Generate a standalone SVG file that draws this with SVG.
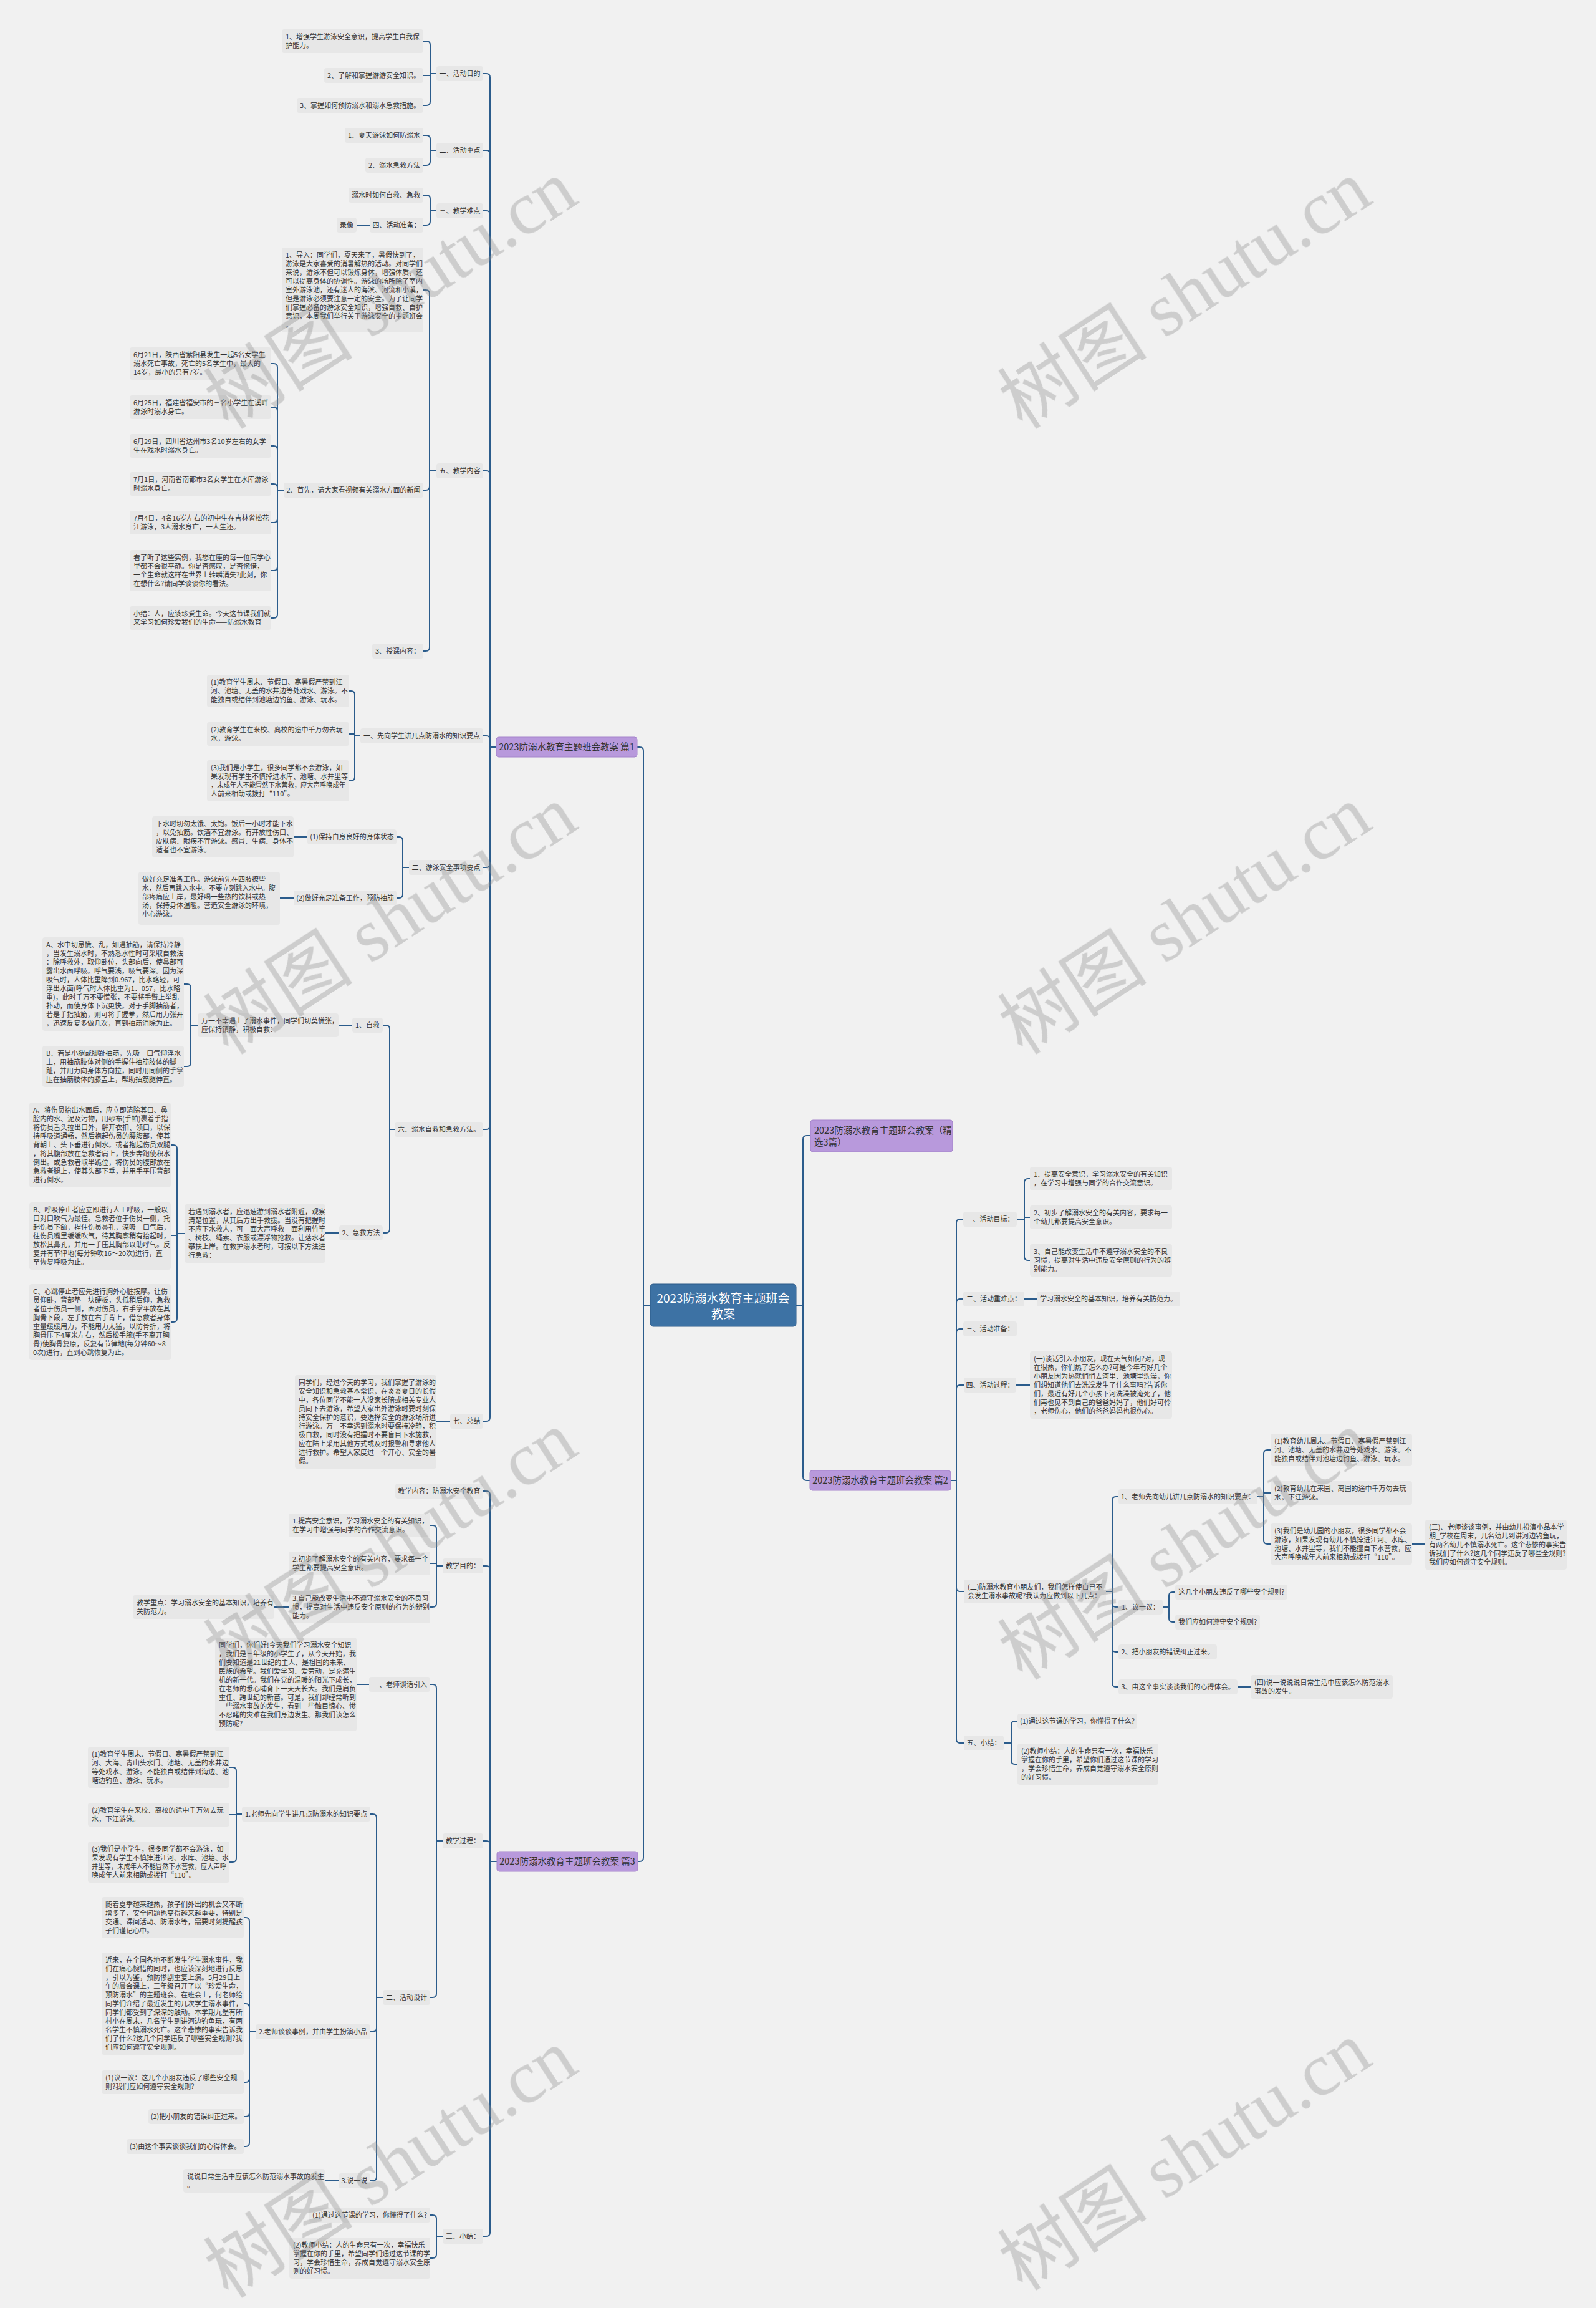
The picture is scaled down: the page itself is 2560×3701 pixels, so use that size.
<svg xmlns="http://www.w3.org/2000/svg" width="2560" height="3701" viewBox="0 0 2560 3701">
<style>
.nd{fill:#e7e7e7}
.t{font-family:"Noto Sans CJK SC","Liberation Sans",sans-serif;font-size:11px;fill:#333}
.m{text-anchor:middle}
.pp{fill:#b899dc;stroke:#a584cb;stroke-width:1}
.pt{font-family:"Noto Sans CJK SC","Liberation Sans",sans-serif;font-size:14.5px;fill:#333}
.c path{stroke:#2b5c8c;stroke-width:2;fill:none}
.wm{font-family:"Liberation Serif","Noto Sans CJK SC",serif;font-size:120px;fill:#8a8a8a;opacity:.35}
</style>
<rect width="2560" height="3701" fill="#f1f1f1"/>
<g class="c" id="connectors">
<path d="M1043,2093 H1032 M1032,2093 V1204 Q1032,1198 1026,1198 H1022 M1032,2093 V2979 Q1032,2985 1026,2985 H1023"/>
<path d="M1277,2093 H1288 M1288,2093 V1827 Q1288,1821 1294,1821 H1300 M1288,2093 V2368 Q1288,2374 1294,2374 H1299"/>
<path d="M796,1198 H786 M786,1198 V124 Q786,118 780,118 H775 M786,1198 V247 Q786,241 780,241 H775 M786,1198 V344 Q786,338 780,338 H775 M786,1198 V761 Q786,755 780,755 H775 M786,1198 V1186 Q786,1180 780,1180 H775 M786,1198 V1385 Q786,1391 780,1391 H775 M786,1198 V1805 Q786,1811 780,1811 H775 M786,1198 V2273 Q786,2279 780,2279 H775"/>
<path d="M700,118 H690 M690,118 V72 Q690,66 684,66 H679 M690,121 H679 M690,118 V163 Q690,169 684,169 H679"/>
<path d="M700,241 H690 M690,241 V223 Q690,217 684,217 H679 M690,241 V259 Q690,265 684,265 H679"/>
<path d="M700,338 H690 M690,338 V319 Q690,313 684,313 H679 M690,338 V355 Q690,361 684,361 H679 M593,361 H572"/>
<path d="M700,755 H689 M689,755 V471 Q689,465 683,465 H679 M689,755 V780 Q689,786 683,786 H679 M689,755 V1038 Q689,1044 683,1044 H679"/>
<path d="M457,786 H445 M445,786 V589 Q445,583 439,583 H435 M445,786 V659 Q445,653 439,653 H435 M445,786 V721 Q445,715 439,715 H435 M445,786 V782 Q445,776 439,776 H435 M445,786 V832 Q445,838 439,838 H435 M445,786 V909 Q445,915 439,915 H435 M445,786 V985 Q445,991 439,991 H435"/>
<path d="M581,1180 H569 M569,1180 V1114 Q569,1108 563,1108 H560 M569,1177 H560 M569,1180 V1246 Q569,1252 563,1252 H560"/>
<path d="M657,1391 H646 M646,1391 V1348 Q646,1342 640,1342 H636 M646,1391 V1434 Q646,1440 640,1440 H636 M493,1342 H471 M471,1440 H449"/>
<path d="M634,1811 H625 M625,1811 V1650 Q625,1644 619,1644 H614 M625,1811 V1971 Q625,1977 619,1977 H614 M565,1644 H543 M544,1977 H522"/>
<path d="M317,1644 H306 M306,1644 V1584 Q306,1578 300,1578 H295 M306,1644 V1704 Q306,1710 300,1710 H295"/>
<path d="M296,1978 H284 M284,1978 V1842 Q284,1836 278,1836 H274 M284,1981 H274 M284,1978 V2114 Q284,2120 278,2120 H274"/>
<path d="M722,2279 H700"/>
<path d="M797,2985 H786 M786,2985 V2397 Q786,2391 780,2391 H775 M786,2985 V2517 Q786,2511 780,2511 H775 M786,2985 V2958 Q786,2952 780,2952 H775 M786,2985 V3580 Q786,3586 780,3586 H775"/>
<path d="M710,2511 H700 M700,2511 V2452 Q700,2446 694,2446 H690 M700,2507 H690 M700,2511 V2571 Q700,2577 694,2577 H690 M463,2577 H440"/>
<path d="M710,2952 H700 M700,2952 V2707 Q700,2701 694,2701 H690 M700,2952 V3197 Q700,3203 694,3203 H690 M592,2701 H572"/>
<path d="M614,3203 H604 M604,3203 V2915 Q604,2909 598,2909 H594 M604,3203 V3252 Q604,3258 598,3258 H594 M604,3203 V3491 Q604,3497 598,3497 H594 M543,3497 H521"/>
<path d="M388,2909 H379 M379,2909 V2840 Q379,2834 373,2834 H368 M379,2910 H368 M379,2909 V2980 Q379,2986 373,2986 H368"/>
<path d="M410,3258 H400 M400,3258 V3081 Q400,3075 394,3075 H391 M400,3258 V3219 Q400,3213 394,3213 H391 M400,3258 V3333 Q400,3339 394,3339 H391 M400,3258 V3388 Q400,3394 394,3394 H391 M400,3258 V3436 Q400,3442 394,3442 H391"/>
<path d="M710,3586 H700 M700,3586 V3558 Q700,3552 694,3552 H690 M700,3586 V3615 Q700,3621 694,3621 H690"/>
<path d="M1525,2374 H1534 M1534,2374 V1961 Q1534,1955 1540,1955 H1545 M1534,2374 V2089 Q1534,2083 1540,2083 H1545 M1534,2374 V2137 Q1534,2131 1540,2131 H1545 M1534,2374 V2227 Q1534,2221 1540,2221 H1546 M1534,2374 V2546 Q1534,2552 1540,2552 H1546 M1534,2374 V2789 Q1534,2795 1540,2795 H1546"/>
<path d="M1631,1955 H1643 M1643,1955 V1896 Q1643,1890 1649,1890 H1652 M1643,1952 H1652 M1643,1955 V2015 Q1643,2021 1649,2021 H1652 M1643,2083 H1663 M1630,2221 H1652"/>
<path d="M1774,2552 H1784 M1784,2552 V2406 Q1784,2400 1790,2400 H1794 M1784,2552 V2571 Q1784,2577 1790,2577 H1794 M1784,2552 V2643 Q1784,2649 1790,2649 H1794 M1784,2552 V2699 Q1784,2705 1790,2705 H1794 M1985,2705 H2006"/>
<path d="M2017,2400 H2027 M2027,2400 V2331 Q2027,2325 2033,2325 H2038 M2027,2394 H2038 M2027,2400 V2470 Q2027,2476 2033,2476 H2038 M2265,2476 H2286"/>
<path d="M1865,2577 H1875 M1875,2577 V2559 Q1875,2553 1881,2553 H1885 M1875,2577 V2595 Q1875,2601 1881,2601 H1885"/>
<path d="M1610,2795 H1622 M1622,2795 V2766 Q1622,2760 1628,2760 H1632 M1622,2795 V2823 Q1622,2829 1628,2829 H1632"/>
</g>
<g id="root"><rect x="1043" y="2059" width="234" height="68" rx="5" fill="#3d72a4" stroke="#2d5a88"/><text font-family="Noto Sans CJK SC,Liberation Sans,sans-serif" font-size="19" fill="#fff" text-anchor="middle"><tspan x="1160" y="2089">2023防溺水教育主题班会</tspan><tspan x="1160" y="2114">教案</tspan></text></g>
<g id="jingxuan"><rect class="pp" x="1300" y="1796" width="228" height="51" rx="4"/><text class="pt"><tspan x="1306" y="1818">2023防溺水教育主题班会教案（精</tspan><tspan x="1306" y="1837">选3篇）</tspan></text></g>
<g id="pian1"><rect class="pp" x="796" y="1182" width="226" height="32" rx="4"/><text class="pt m" x="909" y="1203">2023防溺水教育主题班会教案 篇1</text></g>
<g id="pian2"><rect class="pp" x="1299" y="2358" width="226" height="32" rx="4"/><text class="pt m" x="1412" y="2379">2023防溺水教育主题班会教案 篇2</text></g>
<g id="pian3"><rect class="pp" x="797" y="2969" width="226" height="32" rx="4"/><text class="pt m" x="910" y="2990">2023防溺水教育主题班会教案 篇3</text></g>

<g id="a1"><rect class="nd" x="700" y="106" width="75" height="24" rx="4"/><text class="t m" x="737.5" y="122">一、活动目的</text></g>
<g id="a1-1"><rect class="nd" x="452" y="47" width="227" height="38" rx="4"/><text class="t"><tspan x="458" y="63">1、增强学生游泳安全意识，提高学生自我保</tspan><tspan x="458" y="77">护能力。</tspan></text></g>
<g id="a1-2"><rect class="nd" x="520" y="109" width="159" height="24" rx="4"/><text class="t m" x="599.5" y="125">2、了解和掌握游游安全知识。</text></g>
<g id="a1-3"><rect class="nd" x="476" y="157" width="203" height="24" rx="4"/><text class="t m" x="577.5" y="173">3、掌握如何预防溺水和溺水急救措施。</text></g>
<g id="a2"><rect class="nd" x="700" y="229" width="75" height="24" rx="4"/><text class="t m" x="737.5" y="245">二、活动重点</text></g>
<g id="a2-1"><rect class="nd" x="553" y="205" width="126" height="24" rx="4"/><text class="t m" x="616" y="221">1、夏天游泳如何防溺水</text></g>
<g id="a2-2"><rect class="nd" x="586" y="253" width="93" height="24" rx="4"/><text class="t m" x="632.5" y="269">2、溺水急救方法</text></g>
<g id="a3"><rect class="nd" x="700" y="326" width="75" height="24" rx="4"/><text class="t m" x="737.5" y="342">三、教学难点</text></g>
<g id="a3-1"><rect class="nd" x="559" y="301" width="120" height="24" rx="4"/><text class="t m" x="619" y="317">溺水时如何自救、急救</text></g>
<g id="a3-2"><rect class="nd" x="593" y="349" width="86" height="24" rx="4"/><text class="t m" x="636" y="365">四、活动准备：</text></g>
<g id="a3-2-1"><rect class="nd" x="540" y="349" width="32" height="24" rx="4"/><text class="t m" x="556" y="365">录像</text></g>
<g id="a5"><rect class="nd" x="700" y="743" width="75" height="24" rx="4"/><text class="t m" x="737.5" y="759">五、教学内容</text></g>
<g id="a5-1"><rect class="nd" x="452" y="397" width="227" height="136" rx="4"/><text class="t"><tspan x="458" y="413">1、导入：同学们，夏天来了，暑假快到了，</tspan><tspan x="458" y="427">游泳是大家喜爱的消暑解热的活动。对同学们</tspan><tspan x="458" y="441">来说，游泳不但可以锻炼身体，增强体质，还</tspan><tspan x="458" y="455">可以提高身体的协调性。游泳的场所除了室内</tspan><tspan x="458" y="469">室外游泳池，还有迷人的海滨、河流和小溪，</tspan><tspan x="458" y="483">但是游泳必须要注意一定的安全。为了让同学</tspan><tspan x="458" y="497">们掌握必备的游泳安全知识，增强自救、自护</tspan><tspan x="458" y="511">意识，本周我们举行关于游泳安全的主题班会</tspan><tspan x="458" y="525">。</tspan></text></g>
<g id="a5-2"><rect class="nd" x="455" y="774" width="224" height="24" rx="4"/><text class="t m" x="567" y="790">2、首先，请大家看视频有关溺水方面的新闻</text></g>
<g id="a5-3"><rect class="nd" x="597" y="1032" width="82" height="24" rx="4"/><text class="t m" x="638" y="1048">3、授课内容：</text></g>
<g id="n1"><rect class="nd" x="208" y="557" width="227" height="52" rx="4"/><text class="t"><tspan x="214" y="573">6月21日，陕西省紫阳县发生一起5名女学生</tspan><tspan x="214" y="587">溺水死亡事故，死亡的5名学生中，最大的</tspan><tspan x="214" y="601">14岁，最小的只有7岁。</tspan></text></g>
<g id="n2"><rect class="nd" x="208" y="634" width="227" height="38" rx="4"/><text class="t"><tspan x="214" y="650">6月25日，福建省福安市的三名小学生在溪畔</tspan><tspan x="214" y="664">游泳时溺水身亡。</tspan></text></g>
<g id="n3"><rect class="nd" x="208" y="696" width="227" height="38" rx="4"/><text class="t"><tspan x="214" y="712">6月29日，四川省达州市3名10岁左右的女学</tspan><tspan x="214" y="726">生在戏水时溺水身亡。</tspan></text></g>
<g id="n4"><rect class="nd" x="208" y="757" width="227" height="38" rx="4"/><text class="t"><tspan x="214" y="773">7月1日，河南省南都市3名女学生在水库游泳</tspan><tspan x="214" y="787">时溺水身亡。</tspan></text></g>
<g id="n5"><rect class="nd" x="208" y="819" width="227" height="38" rx="4"/><text class="t"><tspan x="214" y="835">7月4日，4名16岁左右的初中生在吉林省松花</tspan><tspan x="214" y="849">江游泳，3人溺水身亡，一人生还。</tspan></text></g>
<g id="n6"><rect class="nd" x="208" y="882" width="227" height="66" rx="4"/><text class="t"><tspan x="214" y="898">看了听了这些实例，我想在座的每一位同学心</tspan><tspan x="214" y="912">里都不会很平静。你是否感叹，是否惋惜，</tspan><tspan x="214" y="926">一个生命就这样在世界上转瞬消失?此刻，你</tspan><tspan x="214" y="940">在想什么?请同学谈谈你的看法。</tspan></text></g>
<g id="n7"><rect class="nd" x="208" y="972" width="227" height="38" rx="4"/><text class="t"><tspan x="214" y="988">小结：人，应该珍爱生命。今天这节课我们就</tspan><tspan x="214" y="1002">来学习如何珍爱我们的生命——防溺水教育</tspan></text></g>
<g id="a6"><rect class="nd" x="578" y="1168" width="197" height="24" rx="4"/><text class="t m" x="676.5" y="1184">一、先向学生讲几点防溺水的知识要点</text></g>
<g id="a6-1"><rect class="nd" x="332" y="1082" width="228" height="52" rx="4"/><text class="t"><tspan x="338" y="1098">(1)教育学生周末、节假日、寒暑假严禁到江</tspan><tspan x="338" y="1112">河、池塘、无盖的水井边等处戏水、游泳。不</tspan><tspan x="338" y="1126">能独自或结伴到池塘边钓鱼、游泳、玩水。</tspan></text></g>
<g id="a6-2"><rect class="nd" x="332" y="1158" width="228" height="38" rx="4"/><text class="t"><tspan x="338" y="1174">(2)教育学生在来校、离校的途中千万勿去玩</tspan><tspan x="338" y="1188">水，游泳。</tspan></text></g>
<g id="a6-3"><rect class="nd" x="332" y="1219" width="228" height="66" rx="4"/><text class="t"><tspan x="338" y="1235">(3)我们是小学生，很多同学都不会游泳，如</tspan><tspan x="338" y="1249">果发现有学生不慎掉进水库、池塘、水井里等</tspan><tspan x="338" y="1263" textLength="216" lengthAdjust="spacingAndGlyphs">，未成年人不能冒然下水营救，应大声呼唤成年</tspan><tspan x="338" y="1277">人前来相助或拨打“110”。</tspan></text></g>
<g id="a7"><rect class="nd" x="656" y="1379" width="119" height="24" rx="4"/><text class="t m" x="715.5" y="1395">二、游泳安全事项要点</text></g>
<g id="a7-1"><rect class="nd" x="493" y="1330" width="143" height="24" rx="4"/><text class="t m" x="564.5" y="1346">(1)保持自身良好的身体状态</text></g>
<g id="a7-1-1"><rect class="nd" x="244" y="1309" width="227" height="66" rx="4"/><text class="t"><tspan x="250" y="1325">下水时切勿太饿、太饱。饭后一小时才能下水</tspan><tspan x="250" y="1339">，以免抽筋。饮酒不宜游泳。有开放性伤口、</tspan><tspan x="250" y="1353">皮肤病、眼疾不宜游泳。感冒、生病、身体不</tspan><tspan x="250" y="1367">适者也不宜游泳。</tspan></text></g>
<g id="a7-2"><rect class="nd" x="471" y="1428" width="165" height="24" rx="4"/><text class="t m" x="553.5" y="1444">(2)做好充足准备工作，预防抽筋</text></g>
<g id="a7-2-1"><rect class="nd" x="222" y="1398" width="227" height="85" rx="4"/><text class="t"><tspan x="228" y="1414">做好充足准备工作。游泳前先在四肢撩些</tspan><tspan x="228" y="1428" textLength="214" lengthAdjust="spacingAndGlyphs">水，然后再跳入水中。不要立刻跳入水中。腹</tspan><tspan x="228" y="1442">部疼痛应上岸，最好喝一些热的饮料或热</tspan><tspan x="228" y="1456">汤，保持身体温暖。营造安全游泳的环境，</tspan><tspan x="228" y="1470">小心游泳。</tspan></text></g>
<g id="a8"><rect class="nd" x="633" y="1799" width="142" height="24" rx="4"/><text class="t m" x="704" y="1815">六、溺水自救和急救方法。</text></g>
<g id="a8-1"><rect class="nd" x="565" y="1632" width="49" height="24" rx="4"/><text class="t m" x="589.5" y="1648">1、自救</text></g>
<g id="a8-1-1"><rect class="nd" x="317" y="1625" width="226" height="38" rx="4"/><text class="t"><tspan x="323" y="1641">万一不幸遇上了溺水事件，同学们切莫慌张，</tspan><tspan x="323" y="1655">应保持镇静，积极自救：</tspan></text></g>
<g id="a8-1-1-1"><rect class="nd" x="68" y="1503" width="227" height="150" rx="4"/><text class="t"><tspan x="74" y="1519">A、水中切忌慌、乱，如遇抽筋，请保持冷静</tspan><tspan x="74" y="1533">，当发生溺水时，不熟悉水性时可采取自救法</tspan><tspan x="74" y="1547">：除呼救外，取仰卧位，头部向后，使鼻部可</tspan><tspan x="74" y="1561">露出水面呼吸。呼气要浅，吸气要深。因为深</tspan><tspan x="74" y="1575">吸气时，人体比重降到0.967，比水略轻，可</tspan><tspan x="74" y="1589">浮出水面(呼气时人体比重为1．057，比水略</tspan><tspan x="74" y="1603">重)，此时千万不要慌张，不要将手臂上举乱</tspan><tspan x="74" y="1617">扑动，而使身体下沉更快。对于手脚抽筋者，</tspan><tspan x="74" y="1631">若是手指抽筋，则可将手握拳，然后用力张开</tspan><tspan x="74" y="1645">，迅速反复多做几次，直到抽筋消除为止。</tspan></text></g>
<g id="a8-1-1-2"><rect class="nd" x="68" y="1677" width="227" height="66" rx="4"/><text class="t"><tspan x="74" y="1693">B、若是小腿或脚趾抽筋，先吸一口气仰浮水</tspan><tspan x="74" y="1707">上，用抽筋肢体对侧的手握住抽筋肢体的脚</tspan><tspan x="74" y="1721">趾，并用力向身体方向拉，同时用同侧的手掌</tspan><tspan x="74" y="1735">压在抽筋肢体的膝盖上，帮助抽筋腿伸直。</tspan></text></g>
<g id="a8-2"><rect class="nd" x="544" y="1965" width="70" height="24" rx="4"/><text class="t m" x="579" y="1981">2、急救方法</text></g>
<g id="a8-2-1"><rect class="nd" x="296" y="1931" width="226" height="94" rx="4"/><text class="t"><tspan x="302" y="1947">若遇到溺水者，应迅速游到溺水者附近，观察</tspan><tspan x="302" y="1961">清楚位置，从其后方出手救援。当没有把握时</tspan><tspan x="302" y="1975">不应下水救人，可一面大声呼救一面利用竹竿</tspan><tspan x="302" y="1989">、树枝、绳索、衣服或漂浮物抢救。让落水者</tspan><tspan x="302" y="2003">攀扶上岸。在救护溺水者时，可按以下方法进</tspan><tspan x="302" y="2017">行急救：</tspan></text></g>
<g id="a8-2-1-1"><rect class="nd" x="47" y="1768" width="227" height="136" rx="4"/><text class="t"><tspan x="53" y="1784">A、将伤员抬出水面后，应立即清除其口、鼻</tspan><tspan x="53" y="1798">腔内的水、泥及污物，用纱布(手帕)裹着手指</tspan><tspan x="53" y="1812">将伤员舌头拉出口外，解开衣扣、领口，以保</tspan><tspan x="53" y="1826">持呼吸道通畅，然后抱起伤员的腰腹部，使其</tspan><tspan x="53" y="1840">背朝上、头下垂进行倒水。或者抱起伤员双腿</tspan><tspan x="53" y="1854">，将其腹部放在急救者肩上，快步奔跑使积水</tspan><tspan x="53" y="1868">倒出。或急救者取半跪位，将伤员的腹部放在</tspan><tspan x="53" y="1882">急救者腿上，使其头部下垂，并用手平压背部</tspan><tspan x="53" y="1896">进行倒水。</tspan></text></g>
<g id="a8-2-1-2"><rect class="nd" x="47" y="1928" width="227" height="108" rx="4"/><text class="t"><tspan x="53" y="1944">B、呼吸停止者应立即进行人工呼吸，一般以</tspan><tspan x="53" y="1958">口对口吹气为最佳。急救者位于伤员一侧，托</tspan><tspan x="53" y="1972">起伤员下颌，捏住伤员鼻孔，深吸一口气后，</tspan><tspan x="53" y="1986">往伤员嘴里缓缓吹气，待其胸廓稍有抬起时，</tspan><tspan x="53" y="2000">放松其鼻孔，并用一手压其胸部以助呼气。反</tspan><tspan x="53" y="2014">复并有节律地(每分钟吹16～20次)进行，直</tspan><tspan x="53" y="2028">至恢复呼吸为止。</tspan></text></g>
<g id="a8-2-1-3"><rect class="nd" x="47" y="2059" width="227" height="122" rx="4"/><text class="t"><tspan x="53" y="2075">C、心跳停止者应先进行胸外心脏按摩。让伤</tspan><tspan x="53" y="2089">员仰卧，背部垫一块硬板，头低稍后仰，急救</tspan><tspan x="53" y="2103">者位于伤员一侧，面对伤员，右手掌平放在其</tspan><tspan x="53" y="2117">胸骨下段，左手放在右手背上，借急救者身体</tspan><tspan x="53" y="2131">重量缓缓用力，不能用力太猛，以防骨折，将</tspan><tspan x="53" y="2145">胸骨压下4厘米左右，然后松手腕(手不离开胸</tspan><tspan x="53" y="2159">骨)使胸骨复原，反复有节律地(每分钟60～8</tspan><tspan x="53" y="2173">0次)进行，直到心跳恢复为止。</tspan></text></g>
<g id="a9"><rect class="nd" x="722" y="2267" width="53" height="24" rx="4"/><text class="t m" x="748.5" y="2283">七、总结</text></g>
<g id="a9-1"><rect class="nd" x="473" y="2205" width="227" height="150" rx="4"/><text class="t"><tspan x="479" y="2221">同学们，经过今天的学习，我们掌握了游泳的</tspan><tspan x="479" y="2235">安全知识和急救基本常识，在炎炎夏日的长假</tspan><tspan x="479" y="2249">中，各位同学不能一人没家长陪或相关专业人</tspan><tspan x="479" y="2263">员同下去游泳，希望大家出外游泳时要时刻保</tspan><tspan x="479" y="2277">持安全保护的意识，要选择安全的游泳场所进</tspan><tspan x="479" y="2291">行游泳。万一不幸遇到溺水时要保持冷静，积</tspan><tspan x="479" y="2305">极自救，同时没有把握时不要盲目下水施救，</tspan><tspan x="479" y="2319">应在陆上采用其他方式或及时报警和寻求他人</tspan><tspan x="479" y="2333">进行救护。希望大家度过一个开心、安全的暑</tspan><tspan x="479" y="2347">假。</tspan></text></g>

<g id="b1"><rect class="nd" x="634" y="2379" width="141" height="24" rx="4"/><text class="t m" x="704.5" y="2395">教学内容：防溺水安全教育</text></g>
<g id="b2"><rect class="nd" x="710" y="2499" width="65" height="24" rx="4"/><text class="t m" x="742.5" y="2515">教学目的：</text></g>
<g id="b2-1"><rect class="nd" x="463" y="2427" width="227" height="38" rx="4"/><text class="t"><tspan x="469" y="2443">1.提高安全意识，学习溺水安全的有关知识，</tspan><tspan x="469" y="2457">在学习中增强与同学的合作交流意识。</tspan></text></g>
<g id="b2-2"><rect class="nd" x="463" y="2488" width="227" height="38" rx="4"/><text class="t"><tspan x="469" y="2504">2.初步了解溺水安全的有关内容，要求每一个</tspan><tspan x="469" y="2518">学生都要提高安全意识。</tspan></text></g>
<g id="b2-3"><rect class="nd" x="463" y="2551" width="227" height="52" rx="4"/><text class="t"><tspan x="469" y="2567">3.自己能改变生活中不遵守溺水安全的不良习</tspan><tspan x="469" y="2581">惯，提高对生活中违反安全原则的行为的辨别</tspan><tspan x="469" y="2595">能力。</tspan></text></g>
<g id="b2-3-1"><rect class="nd" x="213" y="2558" width="227" height="38" rx="4"/><text class="t"><tspan x="219" y="2574">教学重点：学习溺水安全的基本知识，培养有</tspan><tspan x="219" y="2588">关防范力。</tspan></text></g>
<g id="b3"><rect class="nd" x="710" y="2940" width="65" height="24" rx="4"/><text class="t m" x="742.5" y="2956">教学过程：</text></g>
<g id="b3-1"><rect class="nd" x="592" y="2689" width="98" height="24" rx="4"/><text class="t m" x="641" y="2705">一、老师谈话引入</text></g>
<g id="b3-1-1"><rect class="nd" x="345" y="2626" width="227" height="150" rx="4"/><text class="t"><tspan x="351" y="2642">同学们，你们好!今天我们学习溺水安全知识</tspan><tspan x="351" y="2656">，我们是三年级的小学生了，从今天开始，我</tspan><tspan x="351" y="2670">们要知道是21世纪的主人、是祖国的未来、</tspan><tspan x="351" y="2684">民族的希望。我们爱学习、爱劳动，是充满生</tspan><tspan x="351" y="2698">机的新一代。我们在党的温暖的阳光下成长，</tspan><tspan x="351" y="2712">在老师的悉心哺育下一天天长大。我们是肩负</tspan><tspan x="351" y="2726">重任、跨世纪的新苗。可是，我们却经常听到</tspan><tspan x="351" y="2740">一些溺水事故的发生，看到一些触目惊心、惨</tspan><tspan x="351" y="2754">不忍睹的灾难在我们身边发生。那我们该怎么</tspan><tspan x="351" y="2768">预防呢?</tspan></text></g>
<g id="b3-2"><rect class="nd" x="614" y="3191" width="76" height="24" rx="4"/><text class="t m" x="652" y="3207">二、活动设计</text></g>
<g id="b3-2-1"><rect class="nd" x="388" y="2897" width="206" height="24" rx="4"/><text class="t m" x="491" y="2913">1.老师先向学生讲几点防溺水的知识要点</text></g>
<g id="b3-2-1-1"><rect class="nd" x="141" y="2801" width="227" height="66" rx="4"/><text class="t"><tspan x="147" y="2817">(1)教育学生周末、节假日、寒暑假严禁到江</tspan><tspan x="147" y="2831">河、大海、青山头水门、池塘、无盖的水井边</tspan><tspan x="147" y="2845">等处戏水、游泳。不能独自或结伴到海边、池</tspan><tspan x="147" y="2859">塘边钓鱼、游泳、玩水。</tspan></text></g>
<g id="b3-2-1-2"><rect class="nd" x="141" y="2891" width="227" height="38" rx="4"/><text class="t"><tspan x="147" y="2907">(2)教育学生在来校、离校的途中千万勿去玩</tspan><tspan x="147" y="2921">水，下江游泳。</tspan></text></g>
<g id="b3-2-1-3"><rect class="nd" x="141" y="2953" width="227" height="66" rx="4"/><text class="t"><tspan x="147" y="2969">(3)我们是小学生，很多同学都不会游泳，如</tspan><tspan x="147" y="2983">果发现有学生不慎掉进江河、水库、池塘、水</tspan><tspan x="147" y="2997" textLength="216" lengthAdjust="spacingAndGlyphs">井里等，未成年人不能冒然下水营救，应大声呼</tspan><tspan x="147" y="3011">唤成年人前来相助或拨打“110”。</tspan></text></g>
<g id="b3-2-2"><rect class="nd" x="410" y="3246" width="184" height="24" rx="4"/><text class="t m" x="502" y="3262">2.老师谈谈事例，并由学生扮演小品</text></g>
<g id="b3-2-2-1"><rect class="nd" x="163" y="3042" width="228" height="66" rx="4"/><text class="t"><tspan x="169" y="3058">随着夏季越来越热，孩子们外出的机会又不断</tspan><tspan x="169" y="3072">增多了，安全问题也变得越来越重要，特别是</tspan><tspan x="169" y="3086">交通、课间活动、防溺水等，需要时刻提醒孩</tspan><tspan x="169" y="3100">子们谨记心中。</tspan></text></g>
<g id="b3-2-2-2"><rect class="nd" x="163" y="3131" width="228" height="164" rx="4"/><text class="t"><tspan x="169" y="3147">近来，在全国各地不断发生学生溺水事件，我</tspan><tspan x="169" y="3161">们在痛心惋惜的同时，也应该深刻地进行反思</tspan><tspan x="169" y="3175">，引以为鉴，预防惨剧重复上演。5月29日上</tspan><tspan x="169" y="3189">午的晨会课上，三年级召开了以“珍爱生命，</tspan><tspan x="169" y="3203">预防溺水”的主题班会。在班会上，何老师给</tspan><tspan x="169" y="3217">同学们介绍了最近发生的几次学生溺水事件，</tspan><tspan x="169" y="3231">同学们都受到了深深的触动。本学期九堡有所</tspan><tspan x="169" y="3245">村小在周末，几名学生到讲河边钓鱼玩，有两</tspan><tspan x="169" y="3259">名学生不慎溺水死亡。这个悲惨的事实告诉我</tspan><tspan x="169" y="3273">们了什么?这几个同学违反了哪些安全规则?我</tspan><tspan x="169" y="3287">们应如何遵守安全规则。</tspan></text></g>
<g id="b3-2-2-3"><rect class="nd" x="163" y="3320" width="228" height="38" rx="4"/><text class="t"><tspan x="169" y="3336">(1)议一议：这几个小朋友违反了哪些安全规</tspan><tspan x="169" y="3350">则?我们应如何遵守安全规则?</tspan></text></g>
<g id="b3-2-2-4"><rect class="nd" x="238" y="3382" width="153" height="24" rx="4"/><text class="t m" x="314.5" y="3398">(2)把小朋友的错误纠正过来。</text></g>
<g id="b3-2-2-5"><rect class="nd" x="203" y="3430" width="188" height="24" rx="4"/><text class="t m" x="297" y="3446">(3)由这个事实谈谈我们的心得体会。</text></g>
<g id="b3-2-3"><rect class="nd" x="543" y="3485" width="51" height="24" rx="4"/><text class="t m" x="568.5" y="3501">3.说一说</text></g>
<g id="b3-2-3-1"><rect class="nd" x="294" y="3478" width="227" height="38" rx="4"/><text class="t"><tspan x="300" y="3494">说说日常生活中应该怎么防范溺水事故的发生</tspan><tspan x="300" y="3508">。</tspan></text></g>
<g id="b4"><rect class="nd" x="710" y="3574" width="65" height="24" rx="4"/><text class="t m" x="742.5" y="3590">三、小结：</text></g>
<g id="b4-1"><rect class="nd" x="496" y="3540" width="194" height="24" rx="4"/><text class="t m" x="593" y="3556">(1)通过这节课的学习，你懂得了什么?</text></g>
<g id="b4-2"><rect class="nd" x="464" y="3588" width="226" height="66" rx="4"/><text class="t"><tspan x="470" y="3604">(2)教师小结：人的生命只有一次，幸福快乐</tspan><tspan x="470" y="3618">掌握在你的手里，希望同学们通过这节课的学</tspan><tspan x="470" y="3632">习，学会珍惜生命，养成自觉遵守溺水安全原</tspan><tspan x="470" y="3646">则的好习惯。</tspan></text></g>

<g id="c1"><rect class="nd" x="1545" y="1943" width="86" height="24" rx="4"/><text class="t m" x="1588" y="1959">一、活动目标：</text></g>
<g id="c1-1"><rect class="nd" x="1652" y="1871" width="228" height="38" rx="4"/><text class="t"><tspan x="1658" y="1887">1、提高安全意识，学习溺水安全的有关知识</tspan><tspan x="1658" y="1901">，在学习中增强与同学的合作交流意识。</tspan></text></g>
<g id="c1-2"><rect class="nd" x="1652" y="1933" width="228" height="38" rx="4"/><text class="t"><tspan x="1658" y="1949">2、初步了解溺水安全的有关内容，要求每一</tspan><tspan x="1658" y="1963">个幼儿都要提高安全意识。</tspan></text></g>
<g id="c1-3"><rect class="nd" x="1652" y="1995" width="228" height="52" rx="4"/><text class="t"><tspan x="1658" y="2011">3、自己能改变生活中不遵守溺水安全的不良</tspan><tspan x="1658" y="2025">习惯，提高对生活中违反安全原则的行为的辨</tspan><tspan x="1658" y="2039">别能力。</tspan></text></g>
<g id="c2"><rect class="nd" x="1545" y="2071" width="98" height="24" rx="4"/><text class="t m" x="1594" y="2087">二、活动重难点：</text></g>
<g id="c2-1"><rect class="nd" x="1663" y="2071" width="230" height="24" rx="4"/><text class="t m" x="1778" y="2087">学习溺水安全的基本知识，培养有关防范力。</text></g>
<g id="c3"><rect class="nd" x="1545" y="2119" width="86" height="24" rx="4"/><text class="t m" x="1588" y="2135">三、活动准备：</text></g>
<g id="c4"><rect class="nd" x="1546" y="2209" width="84" height="24" rx="4"/><text class="t m" x="1588" y="2225">四、活动过程：</text></g>
<g id="c4-1"><rect class="nd" x="1652" y="2167" width="228" height="108" rx="4"/><text class="t"><tspan x="1658" y="2183">(一)谈话引入小朋友，现在天气如何?对，现</tspan><tspan x="1658" y="2197">在很热，你们热了怎么办?可是今年有好几个</tspan><tspan x="1658" y="2211">小朋友因为热就悄悄去河里、池塘里洗澡，你</tspan><tspan x="1658" y="2225">们想知道他们去洗澡发生了什么事吗?告诉你</tspan><tspan x="1658" y="2239">们，最近有好几个小孩下河洗澡被淹死了，他</tspan><tspan x="1658" y="2253">们再也见不到自己的爸爸妈妈了，他们好可怜</tspan><tspan x="1658" y="2267">，老师伤心，他们的爸爸妈妈也很伤心。</tspan></text></g>
<g id="c5"><rect class="nd" x="1546" y="2533" width="228" height="38" rx="4"/><text class="t"><tspan x="1552" y="2549">(二)防溺水教育小朋友们，我们怎样使自己不</tspan><tspan x="1552" y="2563">会发生溺水事故呢?我认为应做到以下几点：</tspan></text></g>
<g id="c5-1"><rect class="nd" x="1794" y="2388" width="223" height="24" rx="4"/><text class="t m" x="1905.5" y="2404">1、老师先向幼儿讲几点防溺水的知识要点：</text></g>
<g id="c5-1-1"><rect class="nd" x="2038" y="2299" width="227" height="52" rx="4"/><text class="t"><tspan x="2044" y="2315">(1)教育幼儿周末、节假日、寒暑假严禁到江</tspan><tspan x="2044" y="2329">河、池塘、无盖的水井边等处戏水、游泳。不</tspan><tspan x="2044" y="2343">能独自或结伴到池塘边钓鱼、游泳、玩水。</tspan></text></g>
<g id="c5-1-2"><rect class="nd" x="2038" y="2375" width="227" height="38" rx="4"/><text class="t"><tspan x="2044" y="2391">(2)教育幼儿在来园、离园的途中千万勿去玩</tspan><tspan x="2044" y="2405">水，下江游泳。</tspan></text></g>
<g id="c5-1-3"><rect class="nd" x="2038" y="2443" width="227" height="66" rx="4"/><text class="t"><tspan x="2044" y="2459">(3)我们是幼儿园的小朋友，很多同学都不会</tspan><tspan x="2044" y="2473">游泳，如果发现有幼儿不慎掉进江河、水库、</tspan><tspan x="2044" y="2487">池塘、水井里等，我们不能擅自下水营救，应</tspan><tspan x="2044" y="2501">大声呼唤成年人前来相助或拨打“110”。</tspan></text></g>
<g id="c5-1-3-1"><rect class="nd" x="2286" y="2437" width="227" height="80" rx="4"/><text class="t"><tspan x="2292" y="2453">(三)、老师谈谈事例，并由幼儿扮演小品本学</tspan><tspan x="2292" y="2467">期_学校在周末，几名幼儿到讲河边钓鱼玩，</tspan><tspan x="2292" y="2481">有两名幼儿不慎溺水死亡。这个悲惨的事实告</tspan><tspan x="2292" y="2495">诉我们了什么?这几个同学违反了哪些全规则?</tspan><tspan x="2292" y="2509">我们应如何遵守安全规则。</tspan></text></g>
<g id="c5-2"><rect class="nd" x="1794" y="2565" width="71" height="24" rx="4"/><text class="t m" x="1829.5" y="2581">1、议一议：</text></g>
<g id="c5-2-1"><rect class="nd" x="1885" y="2541" width="180" height="24" rx="4"/><text class="t m" x="1975" y="2557">这几个小朋友违反了哪些安全规则?</text></g>
<g id="c5-2-2"><rect class="nd" x="1885" y="2589" width="136" height="24" rx="4"/><text class="t m" x="1953" y="2605">我们应如何遵守安全规则?</text></g>
<g id="c5-3"><rect class="nd" x="1794" y="2637" width="158" height="24" rx="4"/><text class="t m" x="1873" y="2653">2、把小朋友的错误纠正过来。</text></g>
<g id="c5-4"><rect class="nd" x="1794" y="2693" width="191" height="24" rx="4"/><text class="t m" x="1889.5" y="2709">3、由这个事实谈谈我们的心得体会。</text></g>
<g id="c5-4-1"><rect class="nd" x="2006" y="2686" width="228" height="38" rx="4"/><text class="t"><tspan x="2012" y="2702">(四)说一说说说日常生活中应该怎么防范溺水</tspan><tspan x="2012" y="2716">事故的发生。</tspan></text></g>
<g id="c6"><rect class="nd" x="1546" y="2783" width="64" height="24" rx="4"/><text class="t m" x="1578" y="2799">五、小结：</text></g>
<g id="c6-1"><rect class="nd" x="1632" y="2748" width="192" height="24" rx="4"/><text class="t m" x="1728" y="2764">(1)通过这节课的学习，你懂得了什么?</text></g>
<g id="c6-2"><rect class="nd" x="1632" y="2796" width="226" height="66" rx="4"/><text class="t"><tspan x="1638" y="2812">(2)教师小结：人的生命只有一次，幸福快乐</tspan><tspan x="1638" y="2826">掌握在你的手里，希望你们通过这节课的学习</tspan><tspan x="1638" y="2840">，学会珍惜生命，养成自觉遵守溺水安全原则</tspan><tspan x="1638" y="2854">的好习惯。</tspan></text></g>

<g id="watermark" class="wm" text-anchor="middle">
<text transform="translate(649,507) rotate(-33)">树图 shutu.cn</text>
<text transform="translate(1923,507) rotate(-33)">树图 shutu.cn</text>
<text transform="translate(649,1510) rotate(-33)">树图 shutu.cn</text>
<text transform="translate(1923,1510) rotate(-33)">树图 shutu.cn</text>
<text transform="translate(649,2513) rotate(-33)">树图 shutu.cn</text>
<text transform="translate(1923,2513) rotate(-33)">树图 shutu.cn</text>
<text transform="translate(649,3504) rotate(-33)">树图 shutu.cn</text>
<text transform="translate(1923,3492) rotate(-33)">树图 shutu.cn</text>
</g>
</svg>
